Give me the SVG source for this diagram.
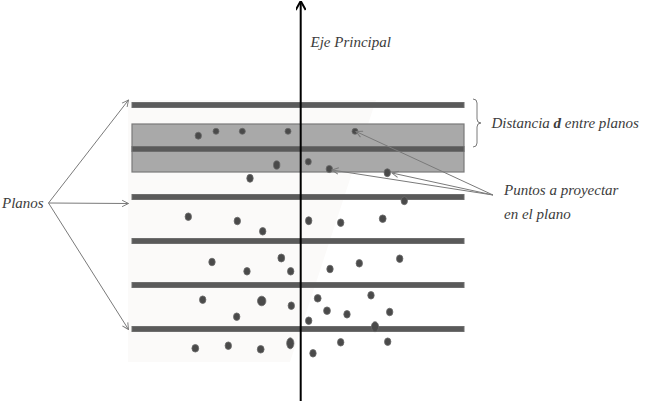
<svg xmlns="http://www.w3.org/2000/svg" width="650" height="406" viewBox="0 0 650 406">
<style>
.bar{fill:#5a5a5a;stroke:#6e6e6e;stroke-width:1}
.dot{fill:#4a4a4a;stroke:#6a6a6a;stroke-width:0.8}
.lbl{font-family:"Liberation Serif",serif;font-style:italic;font-size:15px;fill:#3c3c3c}
.arr{fill:none;stroke:#7a7a7a;stroke-width:1}
</style>
<defs>
<marker id="open" viewBox="0 0 10 10" refX="9" refY="5" markerWidth="8" markerHeight="8" orient="auto" markerUnits="userSpaceOnUse">
<path d="M1,1 L9,5 L1,9" fill="none" stroke="#7a7a7a" stroke-width="1.2"/>
</marker>
<marker id="axisHead" viewBox="0 0 10 10" refX="5" refY="1" markerWidth="10" markerHeight="10" orient="0" markerUnits="userSpaceOnUse">
<path d="M0,9 L5,0 L10,9" fill="none" stroke="#000" stroke-width="2"/>
</marker>
</defs>
<rect width="650" height="406" fill="#fff"/>
<polygon points="128,100 376,100 290,362 128,362" fill="#fbfaf9"/>
<g id="shaded-band">
<rect x="132" y="124" width="332" height="48" fill="#a9a9a9" stroke="#7a7a7a" stroke-width="1.2"/>
</g>
<g id="planes">
<rect class="bar" x="132" y="102.5" width="332" height="5"/>
<rect class="bar" x="132" y="146.5" width="332" height="5"/>
<rect class="bar" x="132" y="194.5" width="332" height="5"/>
<rect class="bar" x="132" y="238.5" width="332" height="5"/>
<rect class="bar" x="132" y="282.5" width="332" height="5"/>
<rect class="bar" x="132" y="326.5" width="332" height="5"/>
</g>
<g id="points">
<ellipse class="dot" cx="198.3" cy="135.7" rx="3.2" ry="3.5"/>
<ellipse class="dot" cx="216" cy="131.3" rx="3" ry="3"/>
<ellipse class="dot" cx="242.3" cy="131.3" rx="3" ry="3"/>
<ellipse class="dot" cx="288" cy="131.3" rx="3" ry="3"/>
<ellipse class="dot" cx="355" cy="131.3" rx="3" ry="3"/>
<ellipse class="dot" cx="276.7" cy="165" rx="3.2" ry="4.2"/>
<ellipse class="dot" cx="308.3" cy="161.7" rx="3" ry="3.3"/>
<ellipse class="dot" cx="329.3" cy="169" rx="3.2" ry="3.6"/>
<ellipse class="dot" cx="387.3" cy="172.7" rx="3.2" ry="4"/>
<ellipse class="dot" cx="250" cy="178.3" rx="3.2" ry="4"/>
<ellipse class="dot" cx="404.3" cy="200.7" rx="3.2" ry="4"/>
<ellipse class="dot" cx="188.3" cy="216.7" rx="3.2" ry="3.8"/>
<ellipse class="dot" cx="237.3" cy="221" rx="3.2" ry="3.8"/>
<ellipse class="dot" cx="262.7" cy="231.3" rx="3.2" ry="3.8"/>
<ellipse class="dot" cx="308.7" cy="220.7" rx="3.2" ry="4"/>
<ellipse class="dot" cx="340.7" cy="222.7" rx="3.2" ry="3.8"/>
<ellipse class="dot" cx="382.7" cy="218.7" rx="3.4" ry="3.8"/>
<ellipse class="dot" cx="212" cy="262" rx="3.2" ry="3.8"/>
<ellipse class="dot" cx="247" cy="271.3" rx="3.2" ry="3.8"/>
<ellipse class="dot" cx="281.3" cy="258" rx="3.4" ry="4"/>
<ellipse class="dot" cx="290.7" cy="271.3" rx="3.2" ry="3.8"/>
<ellipse class="dot" cx="330" cy="269" rx="3.2" ry="3.8"/>
<ellipse class="dot" cx="359.3" cy="263.3" rx="3.2" ry="3.8"/>
<ellipse class="dot" cx="399.7" cy="258.7" rx="3.2" ry="3.8"/>
<ellipse class="dot" cx="202.7" cy="299.7" rx="3.2" ry="3.8"/>
<ellipse class="dot" cx="261.7" cy="301" rx="4.2" ry="4.8"/>
<ellipse class="dot" cx="291.3" cy="305.7" rx="3.2" ry="3.8"/>
<ellipse class="dot" cx="317.7" cy="298.3" rx="3.4" ry="3.8"/>
<ellipse class="dot" cx="371" cy="295.3" rx="3.2" ry="3.8"/>
<ellipse class="dot" cx="327" cy="310.7" rx="3.4" ry="3.8"/>
<ellipse class="dot" cx="347" cy="314.3" rx="3.2" ry="3.8"/>
<ellipse class="dot" cx="389.7" cy="312" rx="3.2" ry="3.8"/>
<ellipse class="dot" cx="236.7" cy="316.7" rx="3.2" ry="3.8"/>
<ellipse class="dot" cx="308.7" cy="320.7" rx="3.2" ry="3.8"/>
<ellipse class="dot" cx="375" cy="326.7" rx="3.6" ry="5"/>
<ellipse class="dot" cx="195.3" cy="348.3" rx="3.4" ry="3.8"/>
<ellipse class="dot" cx="228.3" cy="345.7" rx="3.2" ry="3.8"/>
<ellipse class="dot" cx="260.7" cy="349.3" rx="3.4" ry="3.8"/>
<ellipse class="dot" cx="290.3" cy="343.3" rx="3.6" ry="5.5"/>
<ellipse class="dot" cx="313" cy="353.3" rx="3.2" ry="3.8"/>
<ellipse class="dot" cx="340.7" cy="342.3" rx="3.2" ry="3.8"/>
<ellipse class="dot" cx="387.7" cy="341.7" rx="3.2" ry="3.8"/>
</g>
<g id="connectors">
<line x1="300.7" y1="401" x2="300.7" y2="2" stroke="#000" stroke-width="2" marker-end="url(#axisHead)"/>
<line class="arr" x1="48.5" y1="203" x2="128.5" y2="100" marker-end="url(#open)"/>
<line class="arr" x1="48.5" y1="203" x2="128.5" y2="203.5" marker-end="url(#open)"/>
<line class="arr" x1="48.5" y1="203" x2="128.5" y2="329.5" marker-end="url(#open)"/>
<line class="arr" x1="493" y1="195" x2="356" y2="131.5" stroke="#555" marker-end="url(#open)"/>
<line class="arr" x1="493" y1="195" x2="332" y2="170" marker-end="url(#open)"/>
<line class="arr" x1="493" y1="195" x2="392" y2="173" marker-end="url(#open)"/>
<path d="M473,99 Q477,99 477,103 L477,119 Q477,123 481,123 Q477,123 477,127 L477,143 Q477,147 473,147" fill="none" stroke="#7a7a7a" stroke-width="1"/>
</g>
<g id="labels">
<text class="lbl" x="310.5" y="47">Eje Principal</text>
<text class="lbl" x="2" y="208">Planos</text>
<text class="lbl" x="491.5" y="128" font-size="15.4">Distancia <tspan font-weight="bold">d</tspan> entre planos</text>
<text class="lbl" x="504" y="195">Puntos a proyectar</text>
<text class="lbl" x="504" y="219">en el plano</text>
</g>
</svg>
